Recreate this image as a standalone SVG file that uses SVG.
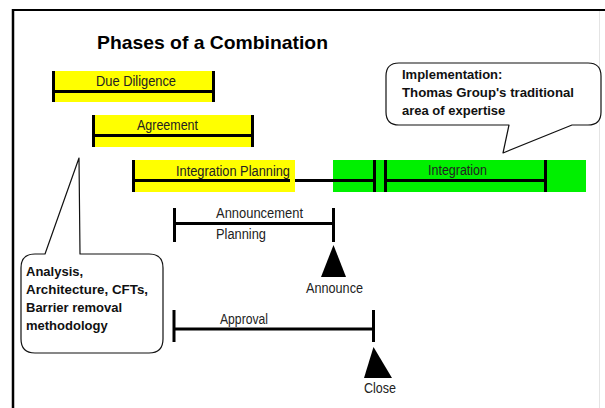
<svg xmlns="http://www.w3.org/2000/svg" width="605" height="408" viewBox="0 0 605 408">
<style>
.bar{stroke:#000;stroke-width:3;fill:none}
.lbl{font-family:"Liberation Sans",Arial,sans-serif;font-size:14px;fill:#222}
.bold{font-family:"Liberation Sans",Arial,sans-serif;font-size:13px;font-weight:bold;fill:#111}
.callout{fill:#fff;stroke:#111;stroke-width:1.2;stroke-linejoin:round}
.yel{fill:#ffff00}
.grn{fill:#00f000}
</style>
<rect x="0" y="0" width="605" height="408" fill="#fff"/>
<g id="frame">
<line x1="12" y1="10" x2="605" y2="10" stroke="#000" stroke-width="2"/>
<line x1="13" y1="9" x2="13" y2="408" stroke="#000" stroke-width="2.5"/>
<line x1="599.5" y1="11" x2="599.5" y2="408" stroke="#e4e4e4" stroke-width="1"/>
</g>
<g id="title">
<text x="97" y="49" font-family="'Liberation Sans',Arial,sans-serif" font-size="19" font-weight="bold" fill="#000" textLength="231" lengthAdjust="spacingAndGlyphs">Phases of a Combination</text>
</g>
<g id="phase-due-diligence">
<rect class="yel" x="52" y="71" width="163" height="31"/>
<path class="bar" d="M53.5 71V102M213.5 71V102M53.5 91.5H213.5"/>
<text class="lbl" x="96" y="86" textLength="80" lengthAdjust="spacingAndGlyphs">Due Diligence</text>
</g>
<g id="phase-agreement">
<rect class="yel" x="92" y="115" width="162" height="32"/>
<path class="bar" d="M93.5 115V147M252.5 115V147M93.5 135.5H252.5"/>
<text class="lbl" x="137" y="130" textLength="61" lengthAdjust="spacingAndGlyphs">Agreement</text>
</g>
<g id="phase-integration-planning">
<rect class="yel" x="132" y="160" width="163" height="32"/>
<path class="bar" d="M133.5 160V192M374.5 160V192M133.5 180.5H374.5"/>
<text class="lbl" x="176" y="176" textLength="114" lengthAdjust="spacingAndGlyphs">Integration Planning</text>
</g>
<g id="phase-integration">
<rect class="grn" x="333" y="160" width="253" height="32"/>
<rect class="yel" x="290" y="160" width="5" height="32"/>
<path class="bar" d="M333 180.5H374.5M374.5 160V192"/>
<path class="bar" d="M385.5 160V192M545.5 160V192M385.5 180.5H545.5"/>
<text class="lbl" x="428" y="175" textLength="59" lengthAdjust="spacingAndGlyphs">Integration</text>
</g>
<g id="announcement-planning">
<path class="bar" d="M174.5 208V242M333.5 208V242M174.5 223.5H333.5"/>
<text class="lbl" x="216" y="218" textLength="87" lengthAdjust="spacingAndGlyphs">Announcement</text>
<text class="lbl" x="216" y="239" textLength="50" lengthAdjust="spacingAndGlyphs">Planning</text>
</g>
<g id="announce-milestone">
<polygon points="333.5,245 346,277 321,277" fill="#000"/>
<text class="lbl" x="306" y="293" textLength="57" lengthAdjust="spacingAndGlyphs">Announce</text>
</g>
<g id="approval">
<path class="bar" d="M174 310V342M373.5 310V342M174 329H373.5"/>
<text class="lbl" x="220" y="324" textLength="48" lengthAdjust="spacingAndGlyphs">Approval</text>
</g>
<g id="close-milestone">
<polygon points="373.5,347 392,378 364,378" fill="#000"/>
<text class="lbl" x="364" y="393" textLength="32" lengthAdjust="spacingAndGlyphs">Close</text>
</g>
<g id="callout-implementation">
<path class="callout" d="M399 63Q386 63 386 76L386 112Q386 125 399 125L509 125L503 153L572 125L588 125Q601 125 601 112L601 76Q601 63 588 63Z"/>
<text class="bold" x="402" y="79">Implementation:</text>
<text class="bold" x="402" y="97" textLength="172" lengthAdjust="spacingAndGlyphs">Thomas Group's traditional</text>
<text class="bold" x="402" y="115">area of expertise</text>
</g>
<g id="callout-analysis">
<path class="callout" d="M45 254L79 158L80 254L149 254Q163 254 163 268L163 339Q163 353 149 353L35 353Q21 353 21 339L21 268Q21 254 35 254Z"/>
<text class="bold" x="26" y="276">Analysis,</text>
<text class="bold" x="26" y="294" textLength="122" lengthAdjust="spacingAndGlyphs">Architecture, CFTs,</text>
<text class="bold" x="26" y="312">Barrier removal</text>
<text class="bold" x="26" y="330">methodology</text>
</g>
<g id="connectors"></g>
</svg>
